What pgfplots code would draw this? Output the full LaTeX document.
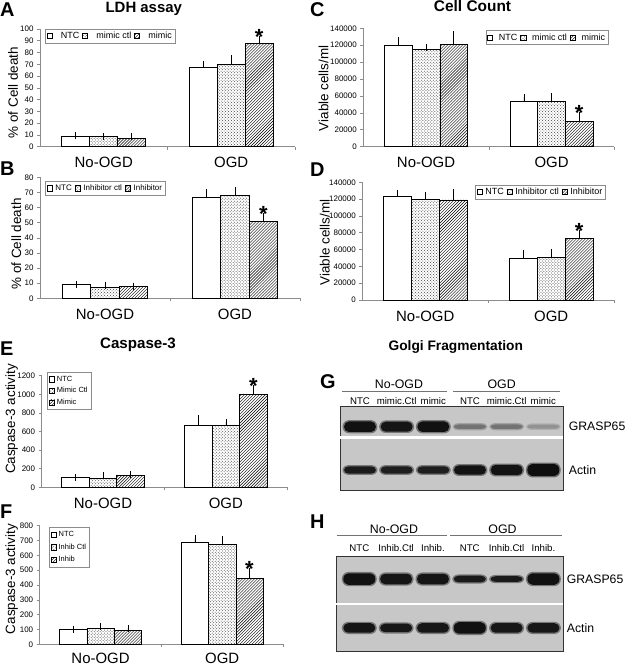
\documentclass[border=0pt]{standalone}
\usepackage{fontspec}
\setmainfont{Liberation Sans}
\usepackage{pgfplots}
\pgfplotsset{compat=1.18}
\usetikzlibrary{patterns}
\newcommand{\fs}[1]{\fontsize{#1}{#1}\selectfont}

% stadium-shaped blot band: half-height = mark size
\pgfdeclareplotmark{band}{%
  \pgfpathmoveto{\pgfpoint{-11bp}{-\pgfplotmarksize}}%
  \pgfpathlineto{\pgfpoint{11bp}{-\pgfplotmarksize}}%
  \pgfpatharc{-90}{90}{5bp and \pgfplotmarksize}%
  \pgfpathlineto{\pgfpoint{-11bp}{\pgfplotmarksize}}%
  \pgfpatharc{90}{270}{5bp and \pgfplotmarksize}%
  \pgfpathclose
  \pgfusepathqfill}
\pgfdeclareplotmark{bandhalo}{%
  \pgfpathmoveto{\pgfpoint{-11bp}{-\pgfplotmarksize}}%
  \pgfpathlineto{\pgfpoint{11bp}{-\pgfplotmarksize}}%
  \pgfpatharc{-90}{90}{6.5bp and \pgfplotmarksize}%
  \pgfpathlineto{\pgfpoint{-11bp}{\pgfplotmarksize}}%
  \pgfpatharc{90}{270}{6.5bp and \pgfplotmarksize}%
  \pgfpathclose
  \pgfusepathqfill}

\pgfplotsset{
  bc/.style={
    scale only axis, ybar, clip=false, anchor=south west,
    axis x line*=bottom, axis y line*=left,
    axis line style={black!45, line width=0.6bp},
    xmin=-0.5, xmax=1.5, ymin=0,
    xtick={0.5,1.5}, xticklabels={},
    extra x ticks={0,1}, extra x tick labels={No-OGD,OGD},
    extra x tick style={major tick length=0pt, xticklabel style={font=\fs{15}, anchor=base, yshift=-21bp}},
    tick align=outside, major tick length=3bp,
    tick style={black!45, line width=0.6bp},
    yticklabel style={font=\fs{8}},
    ylabel style={font=\fs{13.5}, anchor=base},
    /pgf/number format/assume math mode=true,
    /pgf/number format/fixed, /pgf/number format/1000 sep={},
    scaled y ticks=false,
    legend style={font=\fs{9}, draw=black!45, line width=0.5bp, inner sep=1bp, outer sep=0pt, anchor=north west,
      /tikz/every even column/.append style={column sep=1bp}},
    legend cell align=left,
  },
  oddsep/.style={legend style={/tikz/every odd column/.append style={column sep=#1}}},
  eb/.style={error bars/y dir=plus, error bars/y explicit,
    error bars/error bar style={black, line width=0.6bp},
    error bars/error mark options={black, mark size=3.5bp, line width=0.6bp}},
  lg/.style={legend image code/.code={\draw[##1, line width=0.5bp] (0bp,-2.6bp) rectangle (5.2bp,2.6bp);}},
  ntc/.style={eb, lg, draw=black, fill=white, line width=0.6bp},
  ctl/.style={eb, lg, draw=black, line width=0.6bp, pattern=crosshatch dots, pattern color=black!75},
  mim/.style={eb, lg, draw=black, line width=0.6bp, pattern=north east lines, pattern color=black},
  star/.style={draw=none, fill=none, forget plot, nodes near coords={*},
    every node near coord/.style={font=\bfseries\fs{22}, anchor=base, yshift=-5bp, xshift=#1, black}},
  blot/.style={scale only axis, anchor=south west, ymin=0, ymax=1,
    axis background/.style={fill=black!22},
    axis line style={black!80, line width=0.8bp},
    xtick={1,...,6}, xticklabel pos=upper, major tick length=0pt,
    ytick={0.24,0.76}, yticklabels={Actin,GRASP65}, yticklabel pos=right,
    yticklabel style={font=\fs{12.3}, anchor=west},
    colormap={blotmap}{gray(0cm)=(0.78); gray(1cm)=(0.05)},
    point meta min=0, point meta max=1},
  halo/.style={scatter, only marks, mark=bandhalo, scatter/use mapped color={draw=none, fill=mapped color},
    point meta={0.45*\thisrow{d}}, visualization depends on={\thisrow{h}+1.3 \as \hh},
    scatter/@pre marker code/.append style={/tikz/mark size=\hh}, forget plot},
  bands/.style={scatter, only marks, mark=band, scatter/use mapped color={draw=none, fill=mapped color},
    point meta=\thisrow{d}, visualization depends on={\thisrow{h} \as \hh},
    scatter/@pre marker code/.append style={/tikz/mark size=\hh}},
}

\pgfplotstableread{
x y d h
1 0.76 0.97 5.3
2 0.76 0.95 5.0
3 0.76 0.97 5.3
4 0.76 0.45 2.3
5 0.76 0.45 2.3
6 0.76 0.28 2.0
1 0.24 0.92 3.7
2 0.24 0.90 3.7
3 0.24 0.90 3.7
4 0.24 0.96 4.7
5 0.24 0.96 5.2
6 0.24 0.98 6.2
}\blotG
\pgfplotstableread{
x y d h
1 0.765 0.97 5.8
2 0.765 0.95 5.3
3 0.765 0.95 5.3
4 0.765 0.92 3.3
5 0.765 0.92 2.8
6 0.765 0.97 5.8
1 0.25 0.95 4.8
2 0.25 0.94 4.3
3 0.25 0.94 4.8
4 0.25 0.97 5.8
5 0.25 0.94 4.8
6 0.25 0.94 4.8
}\blotH

\begin{document}
\begin{tikzpicture}
\path[use as bounding box] (0,0) rectangle (627bp,-666bp);

% ---------- A ----------
\begin{axis}[bc, width=255bp, height=117.7bp, at={(40bp,-146.7bp)},
  ymax=100, ytick={0,10,...,100}, bar width=28bp,
  ylabel={\% of Cell death}, ylabel style={at={(axis description cs:-0.0863,0.46)}},
  legend style={at={(0.022,1.0)}}, oddsep=6.5bp, legend columns=3]
\addplot[ntc, bar shift=-28bp] coordinates {(0,8.5) +- (0,0.8) (1,67.1) +- (0,2.9)};
\addplot[ctl, bar shift=0bp] coordinates {(0,8.5) +- (0,0.3) (1,70) +- (0,4.8)};
\addplot[mim, bar shift=28bp] coordinates {(0,7.1) +- (0,1.7) (1,87.8) +- (0,3.1)};
\legend{NTC, mimic ctl, mimic}
\addplot[star=28bp] coordinates {(1,90.9)};
\end{axis}

% ---------- B ----------
\begin{axis}[bc, width=260bp, height=121bp, at={(40bp,-298.3bp)},
  ymax=80, ytick={0,10,...,80}, bar width=28.5bp,
  ylabel={\% of Cell death}, ylabel style={at={(axis description cs:-0.073,0.449)}},
  legend style={at={(0.022,0.964)}, font=\fs{8}}, oddsep=1bp, legend columns=3]
\addplot[ntc, bar shift=-28.5bp] coordinates {(0,9.3) +- (0,0) (1,66.8) +- (0,3)};
\addplot[ctl, bar shift=0bp] coordinates {(0,7.3) +- (0,1.3) (1,68.3) +- (0,3.1)};
\addplot[mim, bar shift=28.5bp] coordinates {(0,7.7) +- (0,0.3) (1,50.7) +- (0,3.5)};
\legend{NTC, Inhibitor ctl, Inhibitor}
\addplot[star=28.5bp] coordinates {(1,54.2)};
\end{axis}

% ---------- C ----------
\begin{axis}[bc, width=251bp, height=118.4bp, at={(363.3bp,-146.7bp)},
  ymax=140000, ytick={0,20000,...,140000}, bar width=27.7bp,
  ylabel={Viable cells/ml}, ylabel style={at={(axis description cs:-0.139,0.493)}},
  legend style={at={(0.49,0.98)}}, oddsep=4bp, legend columns=3]
\addplot[ntc, bar shift=-27.7bp] coordinates {(0,120000) +- (0,5000) (1,54000) +- (0,4400)};
\addplot[ctl, bar shift=0bp] coordinates {(0,115000) +- (0,2500) (1,53200) +- (0,6000)};
\addplot[mim, bar shift=27.7bp] coordinates {(0,121000) +- (0,11500) (1,30000) +- (0,7000)};
\legend{NTC, mimic ctl, mimic}
\addplot[star=27.7bp] coordinates {(1,37000)};
\end{axis}

% ---------- D ----------
\begin{axis}[bc, width=251.8bp, height=117.7bp, at={(362.3bp,-300bp)},
  ymax=140000, ytick={0,20000,...,140000}, bar width=28bp,
  ylabel={Viable cells/ml}, ylabel style={at={(axis description cs:-0.130,0.489)}},
  legend style={at={(0.45,0.977)}}, oddsep=1bp, legend columns=3]
\addplot[ntc, bar shift=-28bp] coordinates {(0,123000) +- (0,4000) (1,49200) +- (0,6300)};
\addplot[ctl, bar shift=0bp] coordinates {(0,120000) +- (0,4000) (1,50800) +- (0,5900)};
\addplot[mim, bar shift=28bp] coordinates {(0,119000) +- (0,8700) (1,73400) +- (0,5900)};
\legend{NTC, Inhibitor ctl, Inhibitor}
\addplot[star=28bp] coordinates {(1,79300)};
\end{axis}

% ---------- E ----------
\begin{axis}[bc, width=245.6bp, height=111.6bp, at={(41.6bp,-487.3bp)},
  ymax=1200, ytick={0,200,...,1200}, bar width=27.5bp,
  ylabel={Caspase-3 activity}, ylabel style={at={(axis description cs:-0.108,0.612)}},
  legend style={at={(0.025,1.03)}, font=\fs{7.5}, row sep=0.8bp, inner sep=1.5bp}]
\addplot[ntc, bar shift=-27.5bp] coordinates {(0,107) +- (0,0) (1,670) +- (0,68)};
\addplot[ctl, bar shift=0bp] coordinates {(0,97) +- (0,32) (1,666) +- (0,32)};
\addplot[mim, bar shift=27.5bp] coordinates {(0,125) +- (0,15) (1,1000) +- (0,60)};
\legend{NTC, Mimic Ctl, Mimic}
\addplot[star=27.5bp] coordinates {(1,1060)};
\end{axis}

% ---------- F ----------
\begin{axis}[bc, width=243.3bp, height=118.6bp, at={(39.7bp,-644.3bp)},
  ymax=800, ytick={0,100,...,800}, bar width=27.3bp,
  extra x tick style={xticklabel style={yshift=1.5bp}},
  ylabel={Caspase-3 activity}, ylabel style={at={(axis description cs:-0.1015,0.55)}},
  legend style={at={(0.04,0.983)}, font=\fs{7.5}, row sep=1.8bp, inner sep=1.5bp}]
\addplot[ntc, bar shift=-27.3bp] coordinates {(0,101) +- (0,0) (1,690) +- (0,25)};
\addplot[ctl, bar shift=0bp] coordinates {(0,108) +- (0,13) (1,675) +- (0,33)};
\addplot[mim, bar shift=27.3bp] coordinates {(0,92) +- (0,16) (1,445) +- (0,49)};
\legend{NTC, Inhib Ctl, Inhib}
\addplot[star=27.3bp] coordinates {(1,494)};
\end{axis}

% ---------- G ----------
\begin{axis}[blot, width=223.3bp, height=83.3bp, at={(340bp,-490bp)},
  xmin=0.455, xmax=6.545,
  xticklabels={NTC,mimic.Ctl,mimic,NTC,mimic.Ctl,mimic},
  xticklabel style={font=\fs{9.7}, anchor=base, yshift=2.4bp},
  yticklabel style={xshift=2bp}]
\addplot[white, line width=2.5bp, forget plot] coordinates {(0.455,0.633) (6.545,0.633)};
\addplot[halo] table {\blotG};
\addplot[bands] table {\blotG};
\end{axis}

% ---------- H ----------
\begin{axis}[blot, width=227.3bp, height=95bp, at={(336bp,-651.7bp)},
  xmin=0.367, xmax=6.54,
  xticklabels={NTC,Inhib.Ctl,Inhib.,NTC,Inhib.Ctl,Inhib.},
  xticklabel style={font=\fs{9.7}, anchor=base, yshift=5bp},
  ytick={0.25,0.765}]
\addplot[white, line width=2.5bp, forget plot] coordinates {(0.367,0.502) (6.54,0.502)};
\addplot[halo] table {\blotH};
\addplot[bands] table {\blotH};
\end{axis}

% ---------- titles and panel letters ----------
\node[font=\bfseries\fs{15}, anchor=base] at (143.8bp,-12.7bp) {LDH assay};
\node[font=\bfseries\fs{15.5}, anchor=base] at (472.5bp,-11.7bp) {Cell Count};
\node[font=\bfseries\fs{15.2}, anchor=base] at (138bp,-348.3bp) {Caspase-3};
\node[font=\bfseries\fs{13.8}, anchor=base] at (455.8bp,-350bp) {Golgi Fragmentation};

\begin{scope}[every node/.style={font=\bfseries\fs{20}, anchor=base west, inner sep=0pt}]
\node at (0bp,-16.7bp) {A};
\node at (0bp,-175.5bp) {B};
\node at (310bp,-16.7bp) {C};
\node at (310bp,-176.5bp) {D};
\node at (0bp,-355bp) {E};
\node at (0bp,-518bp) {F};
\node at (320bp,-388bp) {G};
\node at (310bp,-528bp) {H};
\end{scope}

% blot group headers
\begin{scope}[every node/.style={font=\fs{12.4}, anchor=base}]
\node at (399bp,-388.3bp) {No-OGD};
\node at (501.7bp,-388.3bp) {OGD};
\node at (394bp,-533.3bp) {No-OGD};
\node at (502.5bp,-533.3bp) {OGD};
\end{scope}
\draw[black!55, line width=0.8bp] (341.7bp,-391.7bp) -- (446.7bp,-391.7bp);
\draw[black!55, line width=0.8bp] (453.3bp,-391.7bp) -- (560bp,-391.7bp);
\draw[black!55, line width=0.8bp] (336.7bp,-535.5bp) -- (447.3bp,-535.5bp);
\draw[black!55, line width=0.8bp] (450bp,-535.5bp) -- (561.7bp,-535.5bp);
\end{tikzpicture}
\end{document}
